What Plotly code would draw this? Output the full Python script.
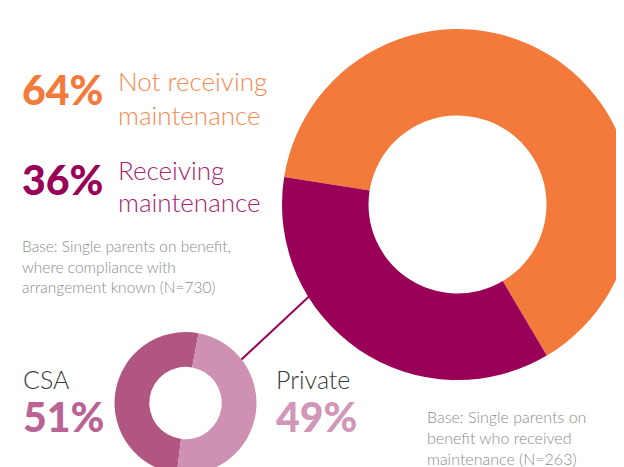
import plotly.graph_objects as go

# ---- data ----
main_labels = ["Not receiving maintenance", "Receiving maintenance"]
main_values = [64, 36]
main_colors = ["#F37A3A", "#990058"]

sub_labels = ["CSA", "Private"]
sub_values = [51, 49]
sub_colors = ["#B05681", "#CE91B2"]

W, H = 640, 480
OFF = 8  # page body margin


def px(x):
    return (x - OFF) / W


def py(y):
    return 1 - (y - OFF) / H


fig = go.Figure()

# big donut: centre (457.5, 204.5) r 175.5
fig.add_trace(go.Pie(
    labels=main_labels, values=main_values, hole=0.507, sort=False,
    direction="clockwise", rotation=279,
    marker=dict(colors=main_colors, line=dict(width=0)),
    textinfo="none", hoverinfo="label+percent", showlegend=False,
    domain=dict(x=[px(282), px(633)], y=[py(380), py(29)]),
))

# small donut: centre (185.5, 403) r 71
fig.add_trace(go.Pie(
    labels=sub_labels, values=sub_values, hole=0.51, sort=False,
    direction="clockwise", rotation=187,
    marker=dict(colors=sub_colors, line=dict(width=0)),
    textinfo="none", hoverinfo="label+percent", showlegend=False,
    domain=dict(x=[px(114.5), px(256.5)], y=[py(474), py(332)]),
))

# connector
fig.add_shape(type="line", xref="paper", yref="paper",
              x0=px(309.5), y0=py(296), x1=px(241.5), y1=py(359.5),
              line=dict(color="#990058", width=2))

FONT = "Lato"


def label(text, x, base, size, color, weight="normal"):
    fig.add_annotation(
        text=text, xref="paper", yref="paper", showarrow=False,
        x=px(x - 2), y=py(base - 0.33 * size), xanchor="left", yanchor="middle",
        font=dict(family=FONT, size=size, color=color, weight=weight),
    )


label(f"{main_values[0]}%", 22, 102.7, 41, "#F37A3A", 900)
label("Not receiving", 118, 89.3, 26, "#F58A4E", 300)
label("maintenance", 118, 124, 26, "#F58A4E", 300)
label(f"{main_values[1]}%", 22, 192.7, 41, "#990058", 900)
label("Receiving", 118, 178.3, 26, "#A3246F", 300)
label("maintenance", 118, 211, 26, "#A3246F", 300)

base1 = ["Base: Single parents on benefit,", "where compliance with", "arrangement known (N=730)"]
for line, b in zip(base1, [250.7, 271.7, 291.7]):
    label(line, 22, b, 15.5, "#8C8C8C", 300)

label(sub_labels[0], 22.7, 387.3, 25, "#3A3A3A", 300)
label(f"{sub_values[0]}%", 22.7, 430, 41, "#BA6495", 900)
label(sub_labels[1], 276, 387, 25, "#3A3A3A", 300)
label(f"{sub_values[1]}%", 276, 430, 41, "#D296B8", 900)

base2 = ["Base: Single parents on", "benefit who received", "maintenance (N=263)"]
for line, b in zip(base2, [421.7, 443, 464]):
    label(line, 426.7, b, 16, "#8C8C8C", 300)

fig.update_layout(
    width=W, height=H, margin=dict(l=0, r=0, t=0, b=0),
    paper_bgcolor="white", plot_bgcolor="white",
)
fig.write_html("out.html")
